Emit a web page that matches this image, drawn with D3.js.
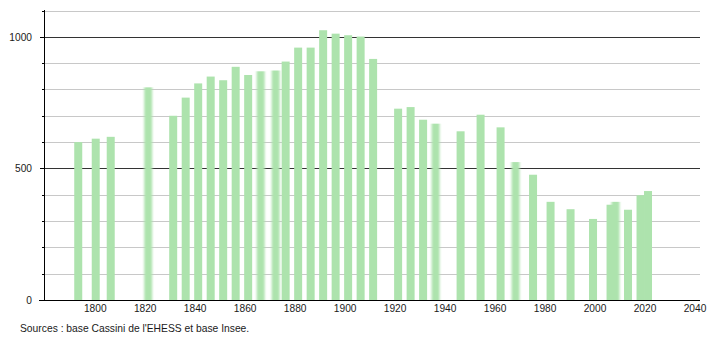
<!DOCTYPE html>
<html><head><meta charset="utf-8">
<script src="https://cdn.jsdelivr.net/npm/d3@7"></script>
<style>body{margin:0;background:#fff}svg{display:block;font-family:"Liberation Sans",Arial,sans-serif}</style>
</head><body>
<svg id="c" width="710" height="340"></svg>
<script>
const years = [1793,1800,1806,1821,1831,1836,1841,1846,1851,1856,1861,1866,1872,1876,1881,1886,1891,1896,1901,1906,1911,1921,1926,1931,1936,1946,1954,1962,1968,1975,1982,1990,1999,2006,2008,2013,2018,2021];
const population = [600,613,620,808,700,769,823,849,835,886,855,869,872,906,959,959,1025,1012,1006,1001,916,727,733,685,670,641,704,656,524,476,373,345,308,362,373,343,398,414];
const softYears = [1821,1866,1872,1936,1968,2008];
const xTicks = [1800,1820,1840,1860,1880,1900,1920,1940,1960,1980,2000,2020,2040];
const yLabels = [0,500,1000];
const yGrid = [100,200,300,400,500,600,700,800,900,1000,1100];
const source = "Sources : base Cassini de l'EHESS et base Insee.";

const svg = d3.select("#c");
const x = d3.scaleLinear().domain([1779.5, 2042]).range([44, 700]);
const y = d3.scaleLinear().domain([0, 1100]).range([300, 10.5]);

const defs = svg.append("defs");
defs.append("filter").attr("id","soft").attr("x","-50%").attr("width","200%")
  .append("feGaussianBlur").attr("stdDeviation","1.3 0");

// grid
svg.append("g").selectAll("line").data(yGrid).join("line")
  .attr("x1",44).attr("x2",700)
  .attr("y1",d=>Math.round(y(d))+0.5).attr("y2",d=>Math.round(y(d))+0.5)
  .attr("stroke",d=>(d%500===0)?"#333":"#c8c8c8").attr("stroke-width",1);

// bars
svg.append("g").selectAll("rect").data(years).join("rect")
  .attr("x",(d)=>x(d)-3.5).attr("width",8)
  .attr("y",(d,i)=>y(population[i])).attr("height",(d,i)=>y(0)-y(population[i]))
  .attr("fill","#ade3ad")
  .attr("filter",d=>softYears.includes(d)?"url(#soft)":null);

// y axis
const ya = svg.append("g");
ya.append("line").attr("x1",44.5).attr("x2",44.5).attr("y1",10).attr("y2",300).attr("stroke","#000");
ya.selectAll("line.mn").data(yGrid.filter(d=>d%500!==0)).join("line").attr("class","mn")
  .attr("x1",42).attr("x2",44).attr("y1",d=>Math.round(y(d))+0.5).attr("y2",d=>Math.round(y(d))+0.5).attr("stroke","#000");
ya.selectAll("line.mj").data(yLabels).join("line").attr("class","mj")
  .attr("x1",40).attr("x2",44).attr("y1",d=>Math.round(y(d))+0.5).attr("y2",d=>Math.round(y(d))+0.5).attr("stroke","#000");
ya.selectAll("text").data(yLabels).join("text")
  .attr("x",32).attr("y",d=>y(d)+4).attr("text-anchor","end").attr("font-size",10.2).attr("fill","#1a1a1a").text(d=>d);

// x axis
svg.append("line").attr("x1",39).attr("x2",700).attr("y1",300.5).attr("y2",300.5).attr("stroke","#000");
svg.append("g").selectAll("text").data(xTicks).join("text")
  .attr("x",d=>x(d)).attr("y",312).attr("text-anchor","middle").attr("font-size",10.2).attr("fill","#1a1a1a").text(d=>d);

svg.append("text").attr("x",20).attr("y",332).attr("font-size",10.3).attr("fill","#1a1a1a").text(source);
</script>
</body></html>
